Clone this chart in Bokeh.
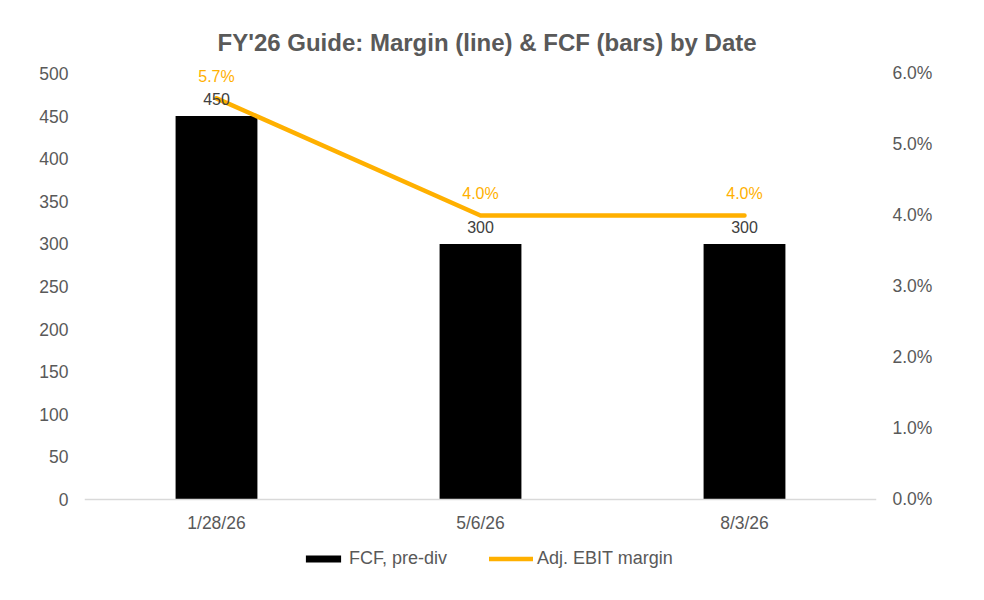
from bokeh.plotting import figure
from bokeh.models import (FactorRange, Range1d, LinearAxis, NumeralTickFormatter,
                          Legend, LegendItem, ColumnDataSource, Title, LabelSet)
from bokeh.core.properties import value
from bokeh.embed import file_html
from bokeh.resources import INLINE

dates = ["1/28/26", "5/6/26", "8/3/26"]
fcf = [450, 300, 300]
margin = [0.0565, 0.040, 0.040]
fcf_labels = ["450", "300", "300"]
margin_labels = ["5.7%", "4.0%", "4.0%"]
left_ticks = [0, 50, 100, 150, 200, 250, 300, 350, 400, 450, 500]
right_ticks = [0.0, 0.01, 0.02, 0.03, 0.04, 0.05, 0.06]

FONT = "Liberation Sans"
GRAY = "#595959"
ORANGE = "#FFB000"
TICK_SIZE = "17.5px"

src = ColumnDataSource(dict(x=dates, fcf=fcf, m=margin, fl=fcf_labels, ml=margin_labels))

# frame extends below zero so the bottom axis and legend sit inside it
p = figure(x_range=FactorRange(*dates), y_range=Range1d(-85.68, 512.91),
           frame_width=792, frame_height=510,
           min_border_left=84, min_border_right=100, min_border_top=62, min_border_bottom=0,
           output_backend="svg", toolbar_location=None, tools="")
p.title = Title(text="FY'26 Guide: Margin (line) & FCF (bars) by Date", align="left",
                text_font=FONT, text_font_size="24px", text_font_style="bold",
                text_color=GRAY, standoff=14, offset=133)
p.outline_line_color = None
p.xgrid.visible = False
p.ygrid.visible = False
p.background_fill_color = "white"
p.border_fill_color = "white"

p.extra_y_ranges = {"pct": Range1d(-0.010282, 0.061549)}

bars = p.vbar(x="x", top="fcf", width=0.31, source=src, fill_color="black", line_color=None)
line = p.line(x="x", y="m", source=src, y_range_name="pct", line_color=ORANGE,
              line_width=4.5, line_cap="round", line_join="round")

p.add_layout(LabelSet(x="x", y="fcf", text="fl", source=src, text_align="center",
                      text_baseline="middle", y_offset=17, text_font=value(FONT),
                      text_font_size="16px", text_color="#404040"))
p.add_layout(LabelSet(x="x", y="m", text="ml", source=src, y_range_name="pct",
                      text_align="center", text_baseline="middle", y_offset=22,
                      text_font=value(FONT), text_font_size="16px", text_color=ORANGE))

# left axis
ya = p.yaxis[0]
ya.ticker = left_ticks
ya.axis_line_color = None
ya.major_tick_line_color = None
ya.minor_tick_line_color = None
ya.major_tick_out = 0
ya.major_label_standoff = 16
ya.major_label_text_font = FONT
ya.major_label_text_font_size = TICK_SIZE
ya.major_label_text_color = GRAY

ra = LinearAxis(y_range_name="pct", ticker=right_ticks,
                formatter=NumeralTickFormatter(format="0.0%"))
ra.axis_line_color = None
ra.major_tick_line_color = None
ra.minor_tick_line_color = None
ra.major_tick_out = 0
ra.major_label_standoff = 16
ra.major_label_text_font = FONT
ra.major_label_text_font_size = TICK_SIZE
ra.major_label_text_color = GRAY
p.add_layout(ra, "right")

xa = p.xaxis[0]
xa.fixed_location = 0
xa.axis_line_color = "#D9D9D9"
xa.axis_line_width = 1.5
xa.major_tick_line_color = None
xa.minor_tick_line_color = None
xa.major_tick_out = 0
xa.major_label_standoff = 13
xa.major_label_text_font = FONT
xa.major_label_text_font_size = TICK_SIZE
xa.major_label_text_color = GRAY

legend = Legend(items=[LegendItem(label="FCF, pre-div", renderers=[bars]),
                       LegendItem(label="Adj. EBIT margin", renderers=[line])],
                orientation="horizontal", location=(217, 3),
                glyph_width=44, glyph_height=9, label_standoff=4, spacing=42,
                label_text_font=FONT, label_text_font_size="18px", label_text_color=GRAY,
                border_line_color=None, background_fill_alpha=0, padding=2, margin=0)
p.add_layout(legend, "center")

open("out.html", "w").write(file_html(p, INLINE))
